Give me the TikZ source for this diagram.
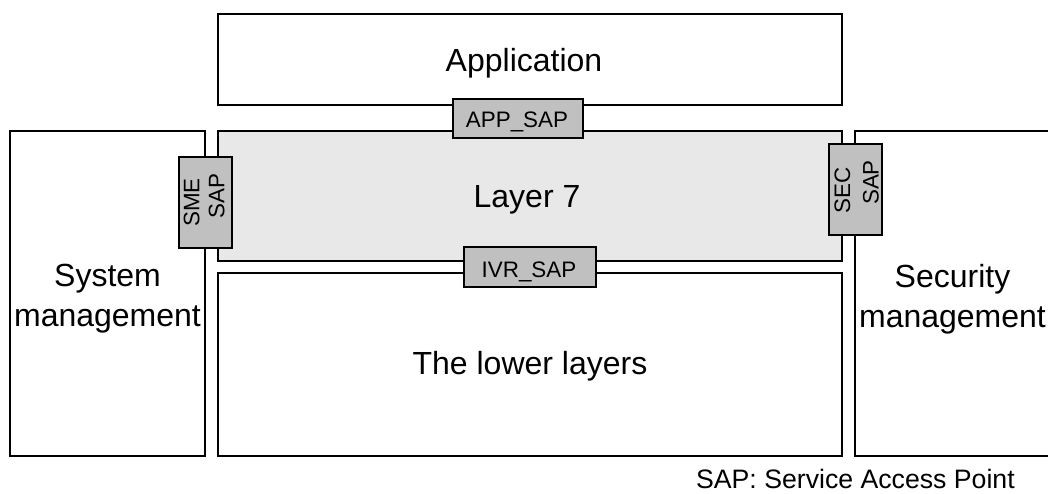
\documentclass[tikz,border=0pt]{standalone}
\usepackage{fontspec}
\setmainfont{Liberation Sans}
\definecolor{layergray}{HTML}{E8E8E8}
\definecolor{sapgray}{HTML}{C0C0C0}
\tikzset{
  box/.style={draw=black, line width=1.4pt, inner sep=0pt, outer sep=0pt},
  bigtext/.style={inner sep=0pt, align=center, font=\fontsize{24}{30}\selectfont},
  sapbox/.style={draw=black, line width=1.2pt, fill=sapgray, inner sep=0pt, outer sep=0pt},
  saptext/.style={inner sep=0pt, font=\fontsize{16.8}{19}\selectfont},
  legend/.style={font=\fontsize{20}{24}\selectfont, inner sep=0pt}
}
\begin{document}
\begin{tikzpicture}[x=0.75pt, y=-0.75pt]
\useasboundingbox (0,0) rectangle (1048,493);
\clip (0,0) rectangle (1048,493);
% main boxes
\node[box, minimum width=468pt, minimum height=68.25pt] (app) at (530,59.5) {};
\node[box, fill=layergray, minimum width=468pt, minimum height=97.5pt] (l7) at (530,196) {};
\node[box, minimum width=468pt, minimum height=137.25pt] (lower) at (530,364.5) {};
\node[box, minimum width=146.25pt, minimum height=243.75pt] (sys) at (107.5,293.5) {};
\node[box, minimum width=146.25pt, minimum height=243.75pt] (sec) at (952.5,293.5) {};
% labels
\node[bigtext, anchor=base] (apptext) at (524,71.7) {Application};
\node[bigtext, anchor=base] (l7text) at (527,207.5) {Layer 7};
\node[bigtext, anchor=base] (lowertext) at (530,374.5) {The lower layers};
\node[bigtext] (systext) at ([yshift=-4.2pt]sys.center) {System\\management};
\node[bigtext] (sectext) at ([yshift=-4.2pt]sec.center) {Security\\management};
% SAP boxes
\node[sapbox, minimum width=97.5pt, minimum height=29.25pt] (appsap) at (518,118.5) {};
\node[saptext, anchor=base] (appsaptext) at (517,127.3) {APP\_SAP};
\node[sapbox, minimum width=99pt, minimum height=30pt] (ivrsap) at (530,267) {};
\node[saptext, anchor=base] (ivrsaptext) at (529,277.3) {IVR\_SAP};
\node[sapbox, minimum width=39.75pt, minimum height=68.25pt] (smesap) at (205.5,202.5) {};
\node[saptext, rotate=90] (smeA) at (191.7,202.4) {SME};
\node[saptext, rotate=90] (smeB) at (216.7,196) {SAP};
\node[sapbox, minimum width=39.75pt, minimum height=68.25pt] (secsap) at (855.5,189.5) {};
\node[saptext, rotate=90] (secA) at (842.5,190) {SEC};
\node[saptext, rotate=90] (secB) at (871,182.5) {SAP};
% small ticks on SAP boxes
\draw[line width=1.8pt] ([yshift=-12pt]smesap.east) -- ([yshift=-22pt]smesap.east);
\draw[line width=1.8pt] ([yshift=-13pt]secsap.east) -- ([yshift=-21.5pt]secsap.east);
% legend
\node[legend, anchor=base east] (leg) at (1015,488.5) {SAP: Service Access Point};
\end{tikzpicture}
\end{document}
